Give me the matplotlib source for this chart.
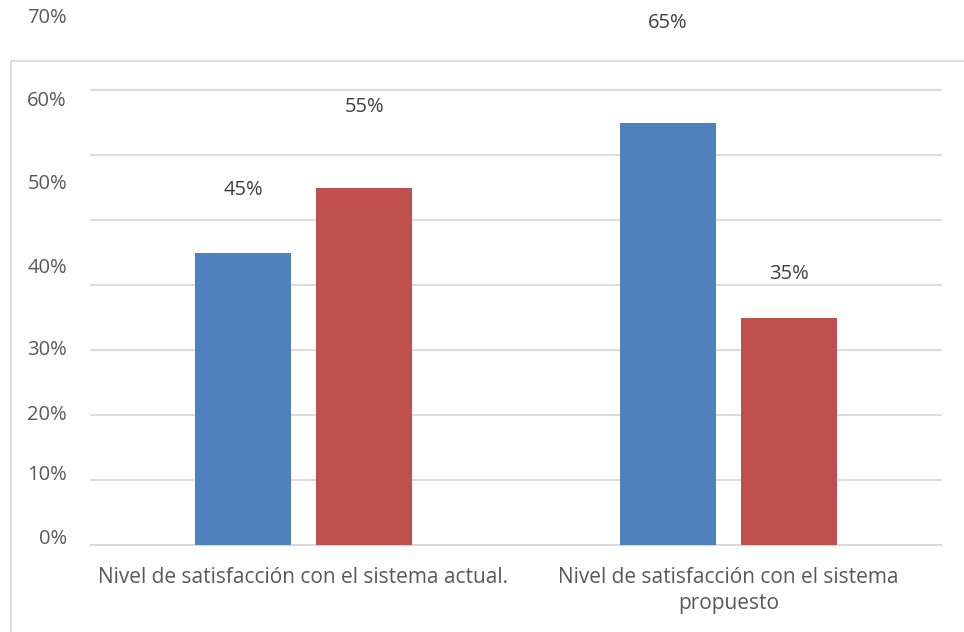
import matplotlib
matplotlib.use("Agg")
import matplotlib.pyplot as plt
from matplotlib.patches import Rectangle

plt.rcParams['font.family'] = ['Open Sans', 'DejaVu Sans']

categories = ["Nivel de satisfacción con el sistema actual.",
              "Nivel de satisfacción con el sistema\npropuesto"]
serie_a = [45, 65]  # blue bars
serie_b = [55, 35]  # red bars
ticks = [0, 10, 20, 30, 40, 50, 60, 70]
tick_labels = ["0%", "10%", "20%", "30%", "40%", "50%", "60%", "70%"]
# where the tick labels sit in the original (they are drawn off their gridlines)
tick_label_pos = [0.9, 10.8, 20.0, 30.0, 42.6, 55.5, 68.3, 81.1]

W, H = 964, 632
fig = plt.figure(figsize=(W / 100, H / 100), dpi=100)
ax = fig.add_axes([91 / W, 1 - 545 / H, 850 / W, 455 / H])

blue = "#4F81BD"
red = "#C0504D"
width = 0.226
gap = 0.059
x = [0, 1]
xa = [i - (width + gap) / 2 for i in x]
xb = [i + (width + gap) / 2 for i in x]
ax.bar(xa, serie_a, width, color=blue, zorder=3)
ax.bar(xb, serie_b, width, color=red, zorder=3)

ax.set_xlim(-0.5, 1.5)
ax.set_ylim(0, 70)
ax.set_yticks(ticks)
ax.set_yticklabels([])
ax.tick_params(axis='y', length=0)
ax.grid(axis='y', color="#d9d9d9", lw=1.3, zorder=0)
for gl in ax.get_ygridlines():
    gl.set_clip_on(False)
for s in ax.spines.values():
    s.set_visible(False)
ax.spines['bottom'].set_visible(True)
ax.spines['bottom'].set_color("#d9d9d9")
ax.spines['bottom'].set_linewidth(1.3)

ax.set_xticks(x)
ax.set_xticklabels(categories, fontsize=15, color="#595959", linespacing=1.3)
ax.tick_params(axis='x', length=0, pad=16)

for yv, lab in zip(tick_label_pos, tick_labels):
    ax.text(-0.5 - 24 / 425, yv, lab, ha='right', va='center', fontsize=14.5,
            color="#595959", clip_on=False)

# value labels are shifted upward in the original, more so for taller bars
for xs, vals in ((xa, serie_a), (xb, serie_b)):
    for xi, v in zip(xs, vals):
        ax.text(xi, v * 1.29 - 3.5, f"{v}%", ha='center', va='center',
                fontsize=14.5, color="#404040", clip_on=False)

fig.patches.append(Rectangle((10.5 / W, -0.1), 1.1, 1 - 61 / H + 0.1,
                             transform=fig.transFigure, fill=False,
                             edgecolor="#d9d9d9", lw=1.3))

fig.savefig("out.png", dpi=100)
